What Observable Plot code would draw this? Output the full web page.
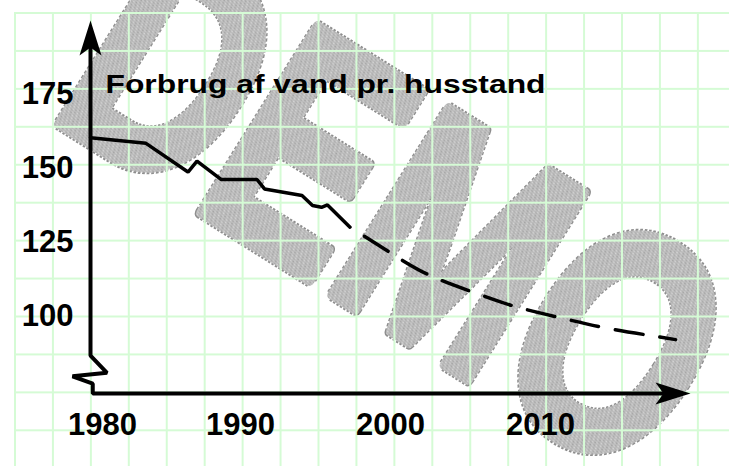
<!DOCTYPE html>
<html>
<head>
<meta charset="utf-8">
<script src="https://cdn.jsdelivr.net/npm/d3@7"></script>
<script src="https://cdn.jsdelivr.net/npm/@observablehq/plot@0.6"></script>
<style>
  html, body { margin: 0; padding: 0; background: #ffffff; }
  #wrap { position: relative; width: 729px; height: 466px; overflow: hidden; background: #ffffff; }
  #wrap > * { position: absolute; left: 0; top: 0; }
  #grid {
    left: 14px; top: 12px; width: 715px; height: 454px;
    background-image:
      linear-gradient(to right, #d5fbd5 2px, transparent 2px),
      linear-gradient(to bottom, #d5fbd5 2px, transparent 2px);
    background-size: 37.95px 37.95px;
    background-position: 0 0;
  }
</style>
</head>
<body>
<div id="wrap">
  <svg id="watermark" width="729" height="466"></svg>
  <div id="grid"></div>
  <div id="chart"></div>
</div>
<script>
// ---- data ----
const title = "Forbrug af vand pr. husstand";
const watermarkText = "DEMO";

// measured consumption (solid)
const measuredYears  = [1980, 1983.7, 1986.5, 1987.1, 1988.7, 1991.1, 1991.6, 1994.1, 1994.8, 1995.4, 1995.8, 1997.3];
const measuredValues = [160.4, 158.5, 148.8, 152.5, 146.3, 146.3, 143.1, 140.9, 137.5, 136.9, 137.7, 130.2];

// projection (dashed)
const forecastYears  = [1997.3, 2000.0, 2002.5, 2005.4, 2008.3, 2011.3, 2014.3, 2017.3, 2019.0];
const forecastValues = [130.2, 121.5, 114.2, 108.4, 103.4, 99.6, 96.2, 93.6, 92.2];

// axis ticks
const yTicks = [100, 125, 150, 175];
const xTicks = [1980, 1990, 2000, 2010];

// axis line with the broken-axis zigzag, in data units
const axisYears  = [1980, 1980, 1981.1, 1978.8, 1980.15, 1980.15, 2018.5];
const axisValues = [192, 86.8, 81.0, 79.8, 77.3, 74, 74];

// arrow tips, in data units
const arrowTips = [
  {year: 1980, value: 200, dir: "up"},
  {year: 2020, value: 74, dir: "right"}
];

// ---- build tables ----
const measured = measuredYears.map((d, i) => ({year: d, value: measuredValues[i]}));
const forecast = forecastYears.map((d, i) => ({year: d, value: forecastValues[i]}));
const axisPath = axisYears.map((d, i) => ({year: d, value: axisValues[i]}));

// ---- watermark (decoration behind the grid) ----
(function () {
  const svg = d3.select("#watermark");
  const defs = svg.append("defs");
  const pat = defs.append("pattern").attr("id", "checker").attr("width", 2).attr("height", 2)
    .attr("patternUnits", "userSpaceOnUse");
  pat.append("rect").attr("width", 2).attr("height", 2).attr("fill", "#d4d4d4");
  pat.append("rect").attr("width", 1).attr("height", 1).attr("fill", "#a4a4a4");
  pat.append("rect").attr("x", 1).attr("y", 1).attr("width", 1).attr("height", 1).attr("fill", "#a4a4a4");
  const g = svg.append("g").attr("transform", "translate(401,202) rotate(32) scale(0.8,1.1)");
  const common = sel => sel
    .attr("text-anchor", "middle")
    .attr("dy", "0.36em")
    .attr("font-family", "'Liberation Sans', Arial, sans-serif")
    .attr("font-weight", "bold")
    .attr("font-size", 290)
    .attr("stroke-linejoin", "round")
    .text(watermarkText);
  g.append("text").call(common)
    .attr("fill", "none").attr("stroke", "#8e8e8e").attr("stroke-width", 12.5)
    .attr("stroke-dasharray", "3 2");
  g.append("text").call(common)
    .attr("fill", "url(#checker)").attr("stroke", "url(#checker)").attr("stroke-width", 9.5);
})();

// ---- arrowhead symbols ----
const arrowUp = {draw(ctx) { ctx.moveTo(0, 0); ctx.lineTo(11, 35); ctx.lineTo(0, 27); ctx.lineTo(-11, 35); ctx.closePath(); }};
const arrowRight = {draw(ctx) { ctx.moveTo(0, 0); ctx.lineTo(-35, -11); ctx.lineTo(-27, 0); ctx.lineTo(-35, 11); ctx.closePath(); }};

const font = "'Liberation Sans', Arial, Helvetica, sans-serif";

const chart = Plot.plot({
  width: 729,
  height: 466,
  marginLeft: 90,
  marginRight: 39,
  marginTop: 20,
  marginBottom: 73,
  x: {domain: [1980, 2020], axis: null},
  y: {domain: [74, 200], axis: null},
  style: {background: "transparent", fontFamily: font, overflow: "visible"},
  marks: [
    Plot.line(axisPath, {x: "year", y: "value", stroke: "#000", strokeWidth: 4, strokeLinejoin: "miter"}),
    Plot.dot(arrowTips.filter(d => d.dir === "up"), {x: "year", y: "value", symbol: arrowUp, fill: "#000", stroke: "none"}),
    Plot.dot(arrowTips.filter(d => d.dir === "right"), {x: "year", y: "value", symbol: arrowRight, fill: "#000", stroke: "none"}),
    Plot.line(measured, {x: "year", y: "value", stroke: "#000", strokeWidth: 3.5, strokeLinejoin: "miter"}),
    Plot.line(forecast, {x: "year", y: "value", stroke: "#000", strokeWidth: 3.5, curve: "natural",
      strokeDasharray: "28 17", strokeDashoffset: 28}),
    Plot.text(yTicks, {x: 1980, y: d => d, text: d => String(d), textAnchor: "end", dx: -17,
      fontSize: 31, fontWeight: "bold", fill: "#000"}),
    Plot.text(xTicks.slice(0, 1), {x: d => d, y: 74, text: d => String(d), dx: 12, dy: 31.5,
      fontSize: 31, fontWeight: "bold", fill: "#000"}),
    Plot.text(xTicks.slice(1), {x: d => d, y: 74, text: d => String(d), dy: 31.5,
      fontSize: 31, fontWeight: "bold", fill: "#000"}),
    Plot.text([title], {frameAnchor: "top-left", text: d => d, textAnchor: "start", dx: 15, dy: 53.7,
      fontSize: 26.5, fontWeight: "bold", fill: "#000"})
  ]
});

document.getElementById("chart").appendChild(chart);

// stretch the title to the reference's width
d3.select(chart).selectAll("text").filter(function () { return this.textContent === title; })
  .attr("textLength", 440).attr("lengthAdjust", "spacingAndGlyphs");
</script>
</body>
</html>
